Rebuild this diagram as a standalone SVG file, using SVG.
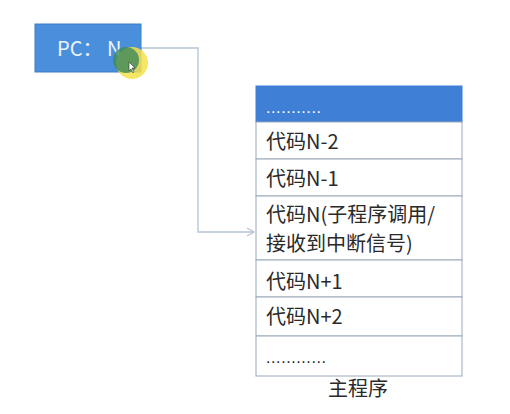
<svg xmlns="http://www.w3.org/2000/svg" width="510" height="414" viewBox="0 0 510 414">
<defs>
<style>
.t{font-family:"Noto Sans CJK SC","Liberation Sans",sans-serif;font-size:20px;fill:#2a2a2a}
.row{fill:#fff;stroke:#9aa8b8;stroke-width:1}
.conn{fill:none;stroke:#b4c4d6;stroke-width:1.3}
.dots{font-family:"Liberation Sans",sans-serif;font-size:16px;letter-spacing:0.6px}
</style>
<marker id="arr" markerWidth="10" markerHeight="10" refX="8" refY="5" orient="auto" markerUnits="userSpaceOnUse">
<path d="M1,1 L8,5 L1,9" fill="none" stroke="#b4c4d6" stroke-width="1.3"/>
</marker>
</defs>
<rect width="510" height="414" fill="#fff"/>
<g id="connectors">
<path class="conn" d="M141,48 H198 V232 H254" marker-end="url(#arr)"/>
</g>
<g id="pc">
<rect x="35" y="24" width="106" height="48" fill="#4a8fdc" stroke="#3d7cc4" stroke-width="1"/>
<text x="57" y="56" font-family="'Noto Sans CJK SC','Liberation Sans',sans-serif" font-size="20" fill="#eef4fb">PC： N</text>
</g>
<g id="cursor">
<circle cx="132" cy="63" r="16" fill="#f4e24a" opacity="0.85"/>
<circle cx="126" cy="60" r="13" fill="#3f8a5a" opacity="0.8"/>
<path d="M129,62 L129,71 L131,69 L133,73 L134,72 L132,68 L135,68 Z" fill="#fff" stroke="#333" stroke-width="0.6"/>
</g>
<g id="main-program">
<rect x="256" y="86" width="206" height="36" fill="#3f7fd6" stroke="#3f7fd6"/>
<text class="dots" x="266" y="113" fill="#fff">...........</text>
<rect class="row" x="256" y="122" width="206" height="37"/>
<text class="t" x="266" y="149">代码N-2</text>
<rect class="row" x="256" y="159" width="206" height="37"/>
<text class="t" x="266" y="186">代码N-1</text>
<rect class="row" x="256" y="196" width="206" height="64"/>
<text class="t" x="266" y="222">代码N(子程序调用/</text>
<text class="t" x="266" y="251">接收到中断信号)</text>
<rect class="row" x="256" y="260" width="206" height="37"/>
<text class="t" x="266" y="289">代码N+1</text>
<rect class="row" x="256" y="297" width="206" height="39"/>
<text class="t" x="266" y="324">代码N+2</text>
<rect class="row" x="256" y="336" width="206" height="40"/>
<text class="dots" x="266" y="363" fill="#222">............</text>
<text class="t" x="358" y="396" text-anchor="middle">主程序</text>
</g>
</svg>
